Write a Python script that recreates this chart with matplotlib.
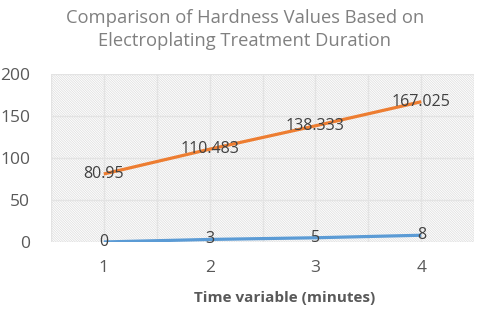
import matplotlib
matplotlib.use('Agg')
import matplotlib.pyplot as plt

# data
times = [1, 2, 3, 4]
series_a = [0, 3, 5, 8]
series_b = [80.95, 110.483, 138.333, 167.025]
labels_a = ['0', '3', '5', '8']
labels_b = ['80.95', '110.483', '138.333', '167.025']
yticks = [0, 50, 100, 150, 200]

plt.rcParams['font.family'] = ['Open Sans', 'DejaVu Sans']
plt.rcParams['hatch.color'] = '#dcdcdc'
plt.rcParams['hatch.linewidth'] = 0.5

fig = plt.figure(figsize=(4.8, 3.11), dpi=100)
ax = fig.add_axes([0.106, 0.222, 0.882, 0.54])

# hatched plot area
ax.patch.set_facecolor('white')
ax.patch.set_hatch('\\' * 14)
ax.patch.set_edgecolor('#dcdcdc')

for s in ax.spines.values():
    s.set_visible(False)

ax.plot(times, series_a, color='#5B9BD5', lw=2.3, solid_capstyle='butt', zorder=3)
ax.plot(times, series_b, color='#ED7D31', lw=2.3, solid_capstyle='butt', zorder=3)

for x, y, t in zip(times, series_a, labels_a):
    ax.text(x, y, t, ha='center', va='center', fontsize=11.5, color='#404040', zorder=4)
for x, y, t in zip(times, series_b, labels_b):
    ax.text(x, y, t, ha='center', va='center', fontsize=11.5, color='#404040', zorder=4)

ax.set_xlim(0.5, 4.5)
ax.set_ylim(0, 200)
ax.set_xticks(times)
ax.set_yticks(yticks)
ax.set_xticks([0.5, 1.5, 2.5, 3.5, 4.5], minor=True)
ax.grid(True, which='both', color='#e3e3e3', lw=1.0)
ax.set_axisbelow(True)
ax.tick_params(which='both', length=0)
ax.tick_params(axis='y', pad=15, labelsize=12.5, labelcolor='#595959')
ax.tick_params(axis='x', pad=13, labelsize=12.5, labelcolor='#595959')

fig.text(0.51, 0.905, 'Comparison of Hardness Values Based on\nElectroplating Treatment Duration',
         ha='center', va='center', fontsize=13.2, color='#808080', linespacing=1.35)
fig.text(0.592, 0.042, 'Time variable (minutes)', ha='center', va='center',
         fontsize=11, fontweight='bold', color='#595959')

plt.savefig('out.png', dpi=100)
